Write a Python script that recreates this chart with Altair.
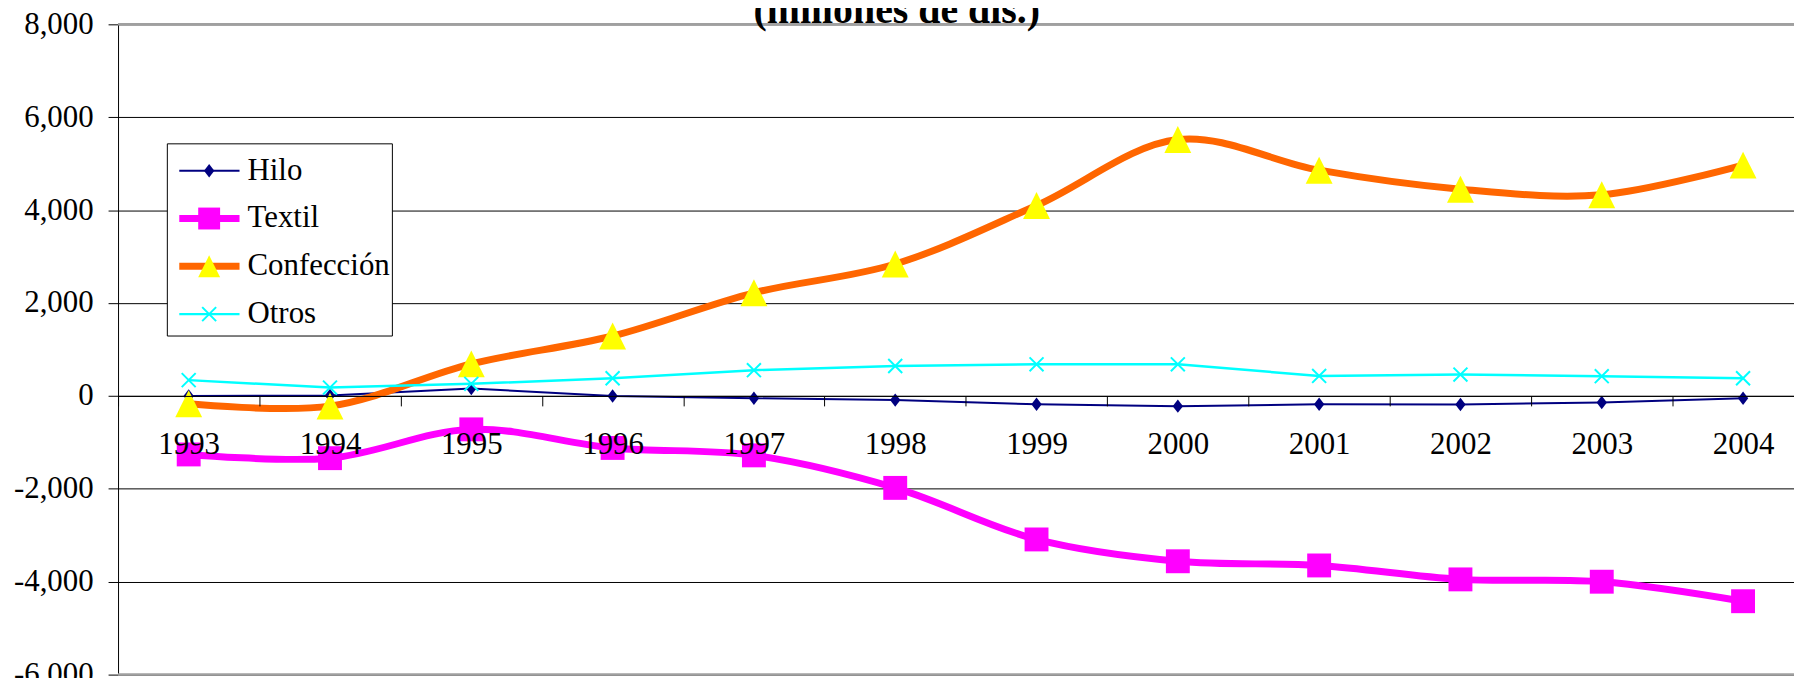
import altair as alt
import pandas as pd

# ---------------- data ----------------
years = [1993, 1994, 1995, 1996, 1997, 1998, 1999, 2000, 2001, 2002, 2003, 2004]
hilo = [0, 10, 160, 0, -50, -90, -180, -220, -180, -185, -140, -50]
textil = [-1260, -1340, -720, -1120, -1280, -1980, -3090, -3560, -3650, -3950, -4000, -4420]
confeccion = [-170, -220, 690, 1290, 2220, 2840, 4100, 5520, 4860, 4450, 4330, 4970]
otros = [340, 180, 260, 380, 555, 645, 680, 680, 430, 460, 425, 380]
series_names = ["Hilo", "Textil", "Confección", "Otros"]
y_ticks = [-6000, -4000, -2000, 0, 2000, 4000, 6000, 8000]
border_values = [8000, -6000]
title_text = "(millones de dls.)"

# ---------------- layout ----------------
W, H = 1683, 653
STEP = 141.9                      # pixels per year
X_DOMAIN = [1992.5, 1992.5 + W / STEP]
Y_DOMAIN = [-6000, 8000]
FONT = "Liberation Serif"
FS = 31

values_by_series = {"Hilo": hilo, "Textil": textil, "Confección": confeccion, "Otros": otros}
rows = []
for name in series_names:
    for yr, v in zip(years, values_by_series[name]):
        rows.append({"serie": name, "year": yr, "value": v})
df = pd.DataFrame(rows)

styles = {
    "Hilo": dict(line="#000080", lw=2, interp="linear",
                 shape="M0,-1.1L0.85,0L0,1.1L-0.85,0Z", fill="#000080", size=150, lsize=150,
                 filled=True, mstroke=None),
    "Textil": dict(line="#FF00FF", lw=7, interp="catmull-rom",
                   shape="square", fill="#FF00FF", size=576, lsize=484, filled=True, mstroke=None),
    "Confección": dict(line="#FF6600", lw=7, interp="catmull-rom",
                       shape="M0,-1L1,1L-1,1Z", fill="#FFFF00", size=729, lsize=484,
                       filled=True, mstroke=None),
    "Otros": dict(line="#00FFFF", lw=2.5, interp="linear",
                  shape="M-1,-1L1,1M-1,1L1,-1", fill="#00FFFF", size=196, lsize=196,
                  filled=False, mstroke=2),
}

xscale = alt.Scale(domain=X_DOMAIN, nice=False, zero=False)
yscale = alt.Scale(domain=Y_DOMAIN, nice=False, zero=False)

x_axis = alt.Axis(
    values=[1992.5 + k for k in range(12)],
    labelExpr="format(datum.value + 0.5, 'd')",
    labelOffset=STEP / 2,
    labelFlush=False, labelOverlap=False, labelBound=False,
    labelFont=FONT, labelFontSize=FS, labelColor="black",
    labelBaseline="alphabetic", labelPadding=48,
    tickSize=10, tickColor="black", tickWidth=1,
    domainColor="black", domainWidth=1,
    grid=False, title=None, offset=-(H - H * 8000 / 14000), zindex=1,
)
y_axis = alt.Axis(
    values=y_ticks,
    labelExpr="(datum.value < 0 ? '-' : '') + format(abs(datum.value), ',d')",
    labelFont=FONT, labelFontSize=FS, labelColor="black",
    labelPadding=15, tickSize=10, tickColor="black",
    domainColor="black", domainWidth=1,
    grid=True, gridColor="black", gridWidth=1, gridOpacity=1,
    title=None, zindex=0,
)
X_ENC = alt.X("year:Q", scale=xscale, axis=x_axis, title=None)
Y_ENC = alt.Y("value:Q", scale=yscale, axis=y_axis, title=None)

base = alt.Chart(df)
layers = []

# top/bottom borders
border = alt.Chart(pd.DataFrame({"value": border_values})).mark_rule(
    color="#A0A0A0", strokeWidth=2.5
).encode(y=Y_ENC)
layers.append(border)

# data series
for name in series_names:
    s = styles[name]
    sub = base.transform_filter(alt.datum.serie == name)
    line = sub.mark_line(color=s["line"], strokeWidth=s["lw"], interpolate=s["interp"]).encode(
        x=X_ENC, y=Y_ENC,
    )
    if s["filled"]:
        pt = sub.mark_point(shape=s["shape"], filled=True, fill=s["fill"], color=s["fill"],
                            size=s["size"], opacity=1, strokeWidth=0)
    else:
        pt = sub.mark_point(shape=s["shape"], filled=False, color=s["fill"],
                            size=s["size"], opacity=1, strokeWidth=s["mstroke"])
    pt = pt.encode(x=X_ENC, y=Y_ENC)
    layers += [line, pt]

# legend box
one = pd.DataFrame({"k": [0]})
leg_box = alt.Chart(one).mark_rect(fill="white", stroke="black", strokeWidth=1).encode(
    x=alt.value(49.5), x2=alt.value(275.5), y=alt.value(120), y2=alt.value(313)
)
layers.append(leg_box)
for i, name in enumerate(series_names):
    s = styles[name]
    py = 147 + 48 * i
    d = pd.DataFrame({"serie": [name]})
    lr = alt.Chart(d).mark_rule(color=s["line"], strokeWidth=s["lw"]).encode(
        x=alt.value(61.5), x2=alt.value(122), y=alt.value(py)
    )
    if s["filled"]:
        lp = alt.Chart(d).mark_point(shape=s["shape"], filled=True, fill=s["fill"], color=s["fill"],
                                     size=s["lsize"], opacity=1, strokeWidth=0)
    else:
        lp = alt.Chart(d).mark_point(shape=s["shape"], filled=False, color=s["fill"],
                                     size=s["lsize"], opacity=1, strokeWidth=s["mstroke"])
    lp = lp.encode(x=alt.value(91.5), y=alt.value(py))
    lt = alt.Chart(d).mark_text(align="left", baseline="middle", font=FONT, fontSize=FS,
                                color="black").encode(
        x=alt.value(130), y=alt.value(py), text="serie:N"
    )
    layers += [lr, lp, lt]

# title (partly cut off at the top like the reference)
title = alt.Chart(pd.DataFrame({"t": [title_text]})).mark_text(
    align="center", baseline="alphabetic", font=FONT, fontSize=40, fontWeight="bold", color="black"
).encode(x=alt.value(782), y=alt.value(-1), text="t:N")
layers.append(title)

chart = alt.layer(*layers).properties(
    width=W, height=H,
    autosize=alt.AutoSizeParams(type="none"),
    padding={"left": 110.5, "top": 15, "right": 0, "bottom": 2},
    background="white",
).configure_view(stroke=None)

chart.save("out.html", embed_options={"renderer": "svg", "actions": False})
